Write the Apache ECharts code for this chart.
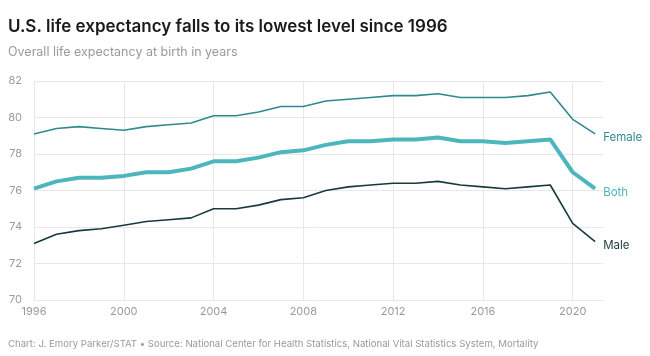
<!DOCTYPE html>
<html><head><meta charset="utf-8">
<script src="https://cdn.jsdelivr.net/npm/echarts@6/dist/echarts.min.js"></script>
<style>html,body{margin:0;padding:0;background:#fff}#c{width:650px;height:356px}</style>
</head><body><div id="c"></div>
<script>
const years = [1996,1997,1998,1999,2000,2001,2002,2003,2004,2005,2006,2007,2008,2009,2010,2011,2012,2013,2014,2015,2016,2017,2018,2019,2020,2021];
const female = [79.1,79.4,79.5,79.4,79.3,79.5,79.6,79.7,80.1,80.1,80.3,80.6,80.6,80.9,81.0,81.1,81.2,81.2,81.3,81.1,81.1,81.1,81.2,81.4,79.9,79.1];
const both = [76.1,76.5,76.7,76.7,76.8,77.0,77.0,77.2,77.6,77.6,77.8,78.1,78.2,78.5,78.7,78.7,78.8,78.8,78.9,78.7,78.7,78.6,78.7,78.8,77.0,76.1];
const male = [73.1,73.6,73.8,73.9,74.1,74.3,74.4,74.5,75.0,75.0,75.2,75.5,75.6,76.0,76.2,76.3,76.4,76.4,76.5,76.3,76.2,76.1,76.2,76.3,74.2,73.2];
const seriesNames = ['Female','Both','Male'];
const titleText = 'U.S. life expectancy falls to its lowest level since 1996';
const subtitleText = 'Overall life expectancy at birth in years';
const footerText = 'Chart: J. Emory Parker/STAT \u2022 Source: National Center for Health Statistics, National Vital Statistics System, Mortality';

const FONT = 'Inter, "Noto Sans", sans-serif';
const chart = echarts.init(document.getElementById('c'), null, {renderer:'canvas'});
function mk(name, data, color, width, z){
  return {
    name, type:'line', data: years.map((y,i)=>[y,data[i]]), showSymbol:false, symbol:'none',
    lineStyle:{color, width}, itemStyle:{color}, z,
    endLabel:{show:true, formatter:name, color, fontFamily:FONT, fontSize:11.5, offset:[0,4]},
    emphasis:{disabled:true}
  };
}
chart.setOption({
  animation:false,
  textStyle:{fontFamily:FONT},
  title:[
    {text:titleText, left:3, top:13, textStyle:{fontFamily:FONT, fontSize:17, fontWeight:600, color:'#1a1a1a'}},
    {text:subtitleText, left:3, top:41, textStyle:{fontFamily:FONT, fontSize:12.5, fontWeight:400, color:'#9a9a9a'}},
    {text:footerText, left:3, top:334, textStyle:{fontFamily:FONT, fontSize:9.6, fontWeight:400, color:'#9a9a9a'}}
  ],
  grid:{left:34, right:47, top:81, bottom:56},
  xAxis:{type:'value', min:1996, max:2021.35, interval:4,
    axisLine:{show:false}, axisTick:{show:false},
    axisLabel:{color:'#9a9a9a', fontSize:11, margin:6, showMaxLabel:false, formatter:v=>String(v)},
    splitLine:{show:true, showMaxLine:false, lineStyle:{color:'#e8e8e8', width:1}}},
  yAxis:{type:'value', min:70, max:82, interval:2,
    axisLine:{show:false}, axisTick:{show:false},
    axisLabel:{color:'#9a9a9a', fontSize:11, margin:12},
    splitLine:{show:true, lineStyle:{color:'#e8e8e8', width:1}}},
  series:[
    mk(seriesNames[0], female, '#2f8a8f', 1.6, 3),
    mk(seriesNames[1], both, '#4db6bd', 4, 4),
    mk(seriesNames[2], male, '#173a3f', 1.6, 3)
  ]
});
</script></body></html>
